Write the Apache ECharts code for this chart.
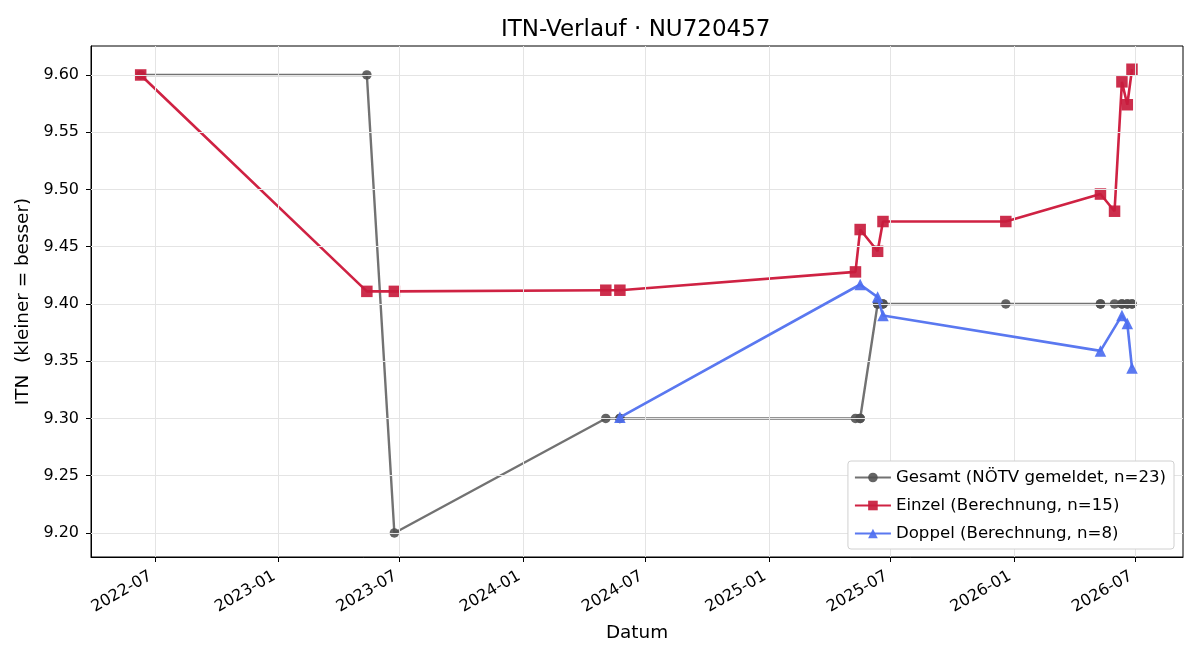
<!DOCTYPE html>
<html>
<head>
<meta charset="utf-8">
<title>ITN-Verlauf</title>
<script src="https://cdn.jsdelivr.net/npm/echarts@6/dist/echarts.min.js"></script>
<style>
  html, body { margin: 0; padding: 0; background: #fff; }
  #chart { width: 1200px; height: 660px; }
</style>
</head>
<body>
<div id="chart"></div>
<script>
// Gesamt (NÖTV gemeldet) – one entry per match date
const gesamtDates = [
  '2022-06-10', '2023-05-13', '2023-06-23', '2024-05-03', '2024-05-24', '2024-05-24',
  '2025-05-10', '2025-05-17', '2025-05-17', '2025-06-12', '2025-06-12', '2025-06-20',
  '2025-06-20', '2025-12-20', '2026-05-10', '2026-05-10', '2026-05-31', '2026-06-11',
  '2026-06-11', '2026-06-19', '2026-06-19', '2026-06-26', '2026-06-26'
];
const gesamtValues = [
  9.60, 9.60, 9.20, 9.30, 9.30, 9.30,
  9.30, 9.30, 9.30, 9.40, 9.40, 9.40,
  9.40, 9.40, 9.40, 9.40, 9.40, 9.40,
  9.40, 9.40, 9.40, 9.40, 9.40
];

// Einzel (Berechnung)
const einzelDates = [
  '2022-06-10', '2023-05-13', '2023-06-23', '2024-05-03', '2024-05-24',
  '2025-05-10', '2025-05-17', '2025-06-12', '2025-06-20', '2025-12-20',
  '2026-05-10', '2026-05-31', '2026-06-11', '2026-06-19', '2026-06-26'
];
const einzelValues = [
  9.600, 9.411, 9.411, 9.412, 9.412,
  9.428, 9.465, 9.446, 9.472, 9.472,
  9.496, 9.481, 9.594, 9.574, 9.605
];

// Doppel (Berechnung)
const doppelDates = [
  '2024-05-24', '2025-05-17', '2025-06-12', '2025-06-20',
  '2026-05-10', '2026-06-11', '2026-06-19', '2026-06-26'
];
const doppelValues = [9.301, 9.417, 9.406, 9.390, 9.359, 9.390, 9.383, 9.344];

// axis ticks
const xTicks = ['2022-07-01', '2023-01-01', '2023-07-01', '2024-01-01', '2024-07-01',
                '2025-01-01', '2025-07-01', '2026-01-01', '2026-07-01'];
const yTicks = [9.20, 9.25, 9.30, 9.35, 9.40, 9.45, 9.50, 9.55, 9.60];

const toTime = s => new Date(s + 'T00:00:00').getTime();
const pairs = (dates, values) => dates.map((d, i) => [toTime(d), values[i]]);
const xTickTimes = xTicks.map(toTime);

const FONT = 'DejaVu Sans';
const names = [
  'Gesamt (NÖTV gemeldet, n=' + gesamtValues.length + ')',
  'Einzel (Berechnung, n=' + einzelValues.length + ')',
  'Doppel (Berechnung, n=' + doppelValues.length + ')'
];

const fmtMonth = v => {
  const d = new Date(v);
  return d.getFullYear() + '-' + String(d.getMonth() + 1).padStart(2, '0');
};

const chart = echarts.init(document.getElementById('chart'));

chart.setOption({
  animation: false,
  backgroundColor: '#fff',
  textStyle: { fontFamily: FONT },
  title: {
    text: 'ITN-Verlauf · NU720457',
    left: 496,
    top: 14,
    textStyle: { fontFamily: FONT, fontSize: 23, fontWeight: 'normal', color: '#000' }
  },
  grid: {
    left: 91, right: 17, top: 46, bottom: 103,
    show: true, borderColor: '#000', borderWidth: 1, backgroundColor: '#fff'
  },
  legend: {
    data: names,
    orient: 'vertical',
    right: 26,
    bottom: 111,
    z: 20,
    itemWidth: 36,
    itemHeight: 12,
    itemGap: 11,
    padding: [8, 8, 7, 6],
    backgroundColor: '#fff',
    borderColor: '#d0d0d0',
    borderWidth: 1,
    borderRadius: 3,
    textStyle: { fontFamily: FONT, fontSize: 16.6, color: '#000' }
  },
  xAxis: {
    type: 'value',
    min: toTime('2022-03-28'),
    max: toTime('2026-09-10'),
    name: 'Datum',
    nameLocation: 'middle',
    nameGap: 67,
    nameTextStyle: { fontFamily: FONT, fontSize: 18.4, color: '#000' },
    axisLine: { show: true, lineStyle: { color: '#000', width: 1 } },
    axisTick: { show: true, length: 5, customValues: xTickTimes, lineStyle: { color: '#000' } },
    axisLabel: {
      customValues: xTickTimes,
      formatter: fmtMonth,
      rotate: 30,
      margin: 25,
      verticalAlign: 'bottom',
      fontFamily: FONT,
      fontSize: 16,
      color: '#000',
      showMinLabel: true,
      showMaxLabel: true,
      hideOverlap: false
    },
    splitLine: { show: false }
  },
  yAxis: {
    type: 'value',
    min: 9.179,
    max: 9.6253,
    name: 'ITN  (kleiner = besser)',
    nameLocation: 'middle',
    nameGap: 57,
    nameTextStyle: { fontFamily: FONT, fontSize: 18.4, color: '#000' },
    axisLine: { show: true, lineStyle: { color: '#000', width: 1 } },
    axisTick: { show: true, length: 5, customValues: yTicks, lineStyle: { color: '#000' } },
    axisLabel: {
      customValues: yTicks,
      formatter: v => v.toFixed(2),
      margin: 12,
      fontFamily: FONT,
      fontSize: 16,
      color: '#000'
    },
    splitLine: { show: false }
  },
  series: [
    {
      // grid lines at the tick positions
      name: 'grid',
      type: 'line',
      data: [],
      z: 1,
      silent: true,
      markLine: {
        silent: true,
        symbol: 'none',
        label: { show: false },
        lineStyle: { color: '#e4e4e4', width: 1, type: 'solid' },
        data: xTickTimes.map(t => ({ xAxis: t }))
          .concat(yTicks.map(v => ({ yAxis: v })))
      }
    },
    {
      name: names[0],
      type: 'line',
      z: 3,
      data: pairs(gesamtDates, gesamtValues),
      symbol: 'circle',
      symbolSize: 9.5,
      color: '#555555',
      lineStyle: { color: '#727272', width: 2.4 },
      itemStyle: { color: '#4f4f4f', opacity: 0.88 }
    },
    {
      name: names[1],
      type: 'line',
      z: 4,
      data: pairs(einzelDates, einzelValues),
      symbol: 'rect',
      symbolSize: 11.5,
      color: '#cc1f40',
      lineStyle: { color: '#cf2243', width: 2.6 },
      itemStyle: { color: '#c81c3d', opacity: 0.92 }
    },
    {
      name: names[2],
      type: 'line',
      z: 5,
      data: pairs(doppelDates, doppelValues),
      symbol: 'triangle',
      symbolSize: 11.5,
      color: '#4f70f0',
      lineStyle: { color: '#5a78f0', width: 2.6 },
      itemStyle: { color: '#4d6ef0', opacity: 0.92 }
    }
  ]
});
</script>
</body>
</html>
